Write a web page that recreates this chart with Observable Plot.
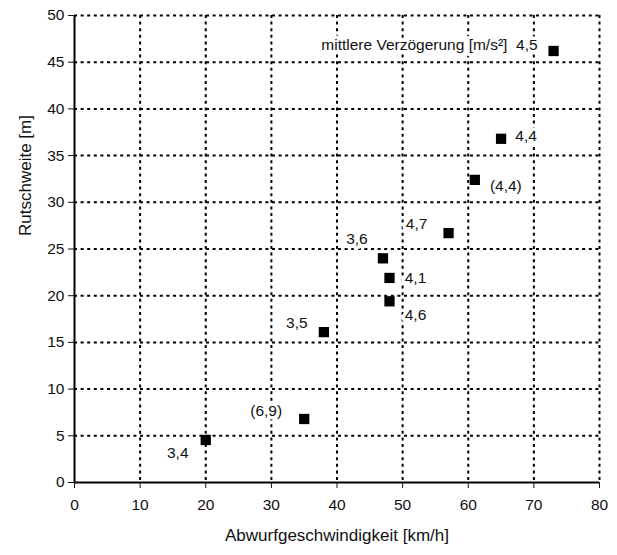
<!DOCTYPE html>
<html><head><meta charset="utf-8">
<script src="https://cdn.jsdelivr.net/npm/d3@7"></script>
<script src="https://cdn.jsdelivr.net/npm/@observablehq/plot@0.6"></script>
<style>body{margin:0;background:#fff;} svg{font-family:"Liberation Sans",Arial,sans-serif;}</style>
</head><body><div id="chart"></div>
<script>
const speeds = [20, 35, 38, 47, 48, 48, 57, 61, 65, 73];
const distances = [4.55, 6.8, 16.1, 24.0, 21.9, 19.4, 26.7, 32.4, 36.8, 46.2];
const labels = ["3,4", "(6,9)", "3,5", "3,6", "4,1", "4,6", "4,7", "(4,4)", "4,4", "mittlere Verzögerung [m/s²]  4,5"];
const xTicks = [0, 10, 20, 30, 40, 50, 60, 70, 80];
const yTicks = [0, 5, 10, 15, 20, 25, 30, 35, 40, 45, 50];
const xTitle = "Abwurfgeschwindigkeit [km/h]";
const yTitle = "Rutschweite [m]";
// label placement (pixel offsets, anchor) kept separate from data
const labelPlacement = [
  {dx: -28, dy: 13, a: "middle"}, {dx: -38, dy: -8, a: "middle"}, {dx: -27, dy: -9, a: "middle"},
  {dx: -26, dy: -19, a: "middle"}, {dx: 26, dy: 0, a: "middle"}, {dx: 26, dy: 14, a: "middle"},
  {dx: -32, dy: -9, a: "middle"}, {dx: 31, dy: 6, a: "middle"}, {dx: 25, dy: -3, a: "middle"},
  {dx: -16, dy: -6, a: "end"}
];
const pts = speeds.map((s, i) => ({x: s, y: distances[i], label: labels[i], ...labelPlacement[i]}));
const grid = {stroke: "black", strokeWidth: 2, strokeDasharray: "3,3.6"};
const textMarks = pts.map(p => Plot.text([p], {x: "x", y: "y", text: "label", dx: p.dx, dy: p.dy, textAnchor: p.a, fontSize: 15.5, fill: "#111", stroke: "white", strokeWidth: 7}));
const chart = Plot.plot({
  width: 617, height: 555,
  marginLeft: 74, marginRight: 18, marginTop: 15, marginBottom: 73,
  style: {fontSize: "15.5px", fontFamily: "Liberation Sans, Arial, sans-serif", color: "#111", background: "white"},
  x: {domain: [0, 80], ticks: xTicks, tickSize: 6, tickPadding: 10, label: null},
  y: {domain: [0, 50], ticks: yTicks, tickSize: 6, tickPadding: 4, label: null},
  marks: [
    Plot.ruleX(xTicks.filter(v => v > 0), grid),
    Plot.ruleY(yTicks.filter(v => v > 0), grid),
    Plot.ruleX([0], {stroke: "black", strokeWidth: 2}),
    Plot.ruleY([0], {stroke: "black", strokeWidth: 2}),
    ...textMarks,
    Plot.dot(pts, {x: "x", y: "y", symbol: "square", r: 5.8, fill: "black", stroke: "none"}),
    Plot.text([xTitle], {frameAnchor: "bottom", dy: 58, fontSize: 17, fill: "#111"}),
    Plot.text([yTitle], {frameAnchor: "left", dx: -49, dy: -13, rotate: -90, fontSize: 17, fill: "#111"})
  ]
});
document.getElementById("chart").appendChild(chart);
</script></body></html>
